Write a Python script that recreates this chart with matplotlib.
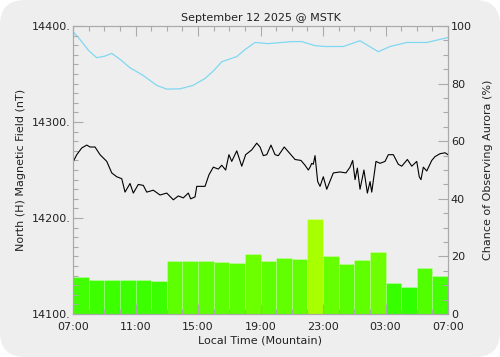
import numpy as np
import matplotlib
matplotlib.use("Agg")
import matplotlib.pyplot as plt
from matplotlib.patches import FancyBboxPatch
from matplotlib.ticker import MultipleLocator

# hourly aurora chance bars (%), 07:00 -> 07:00 next day
bar_hours = np.arange(24)
bar_pct = [12.7, 11.9, 11.7, 11.7, 11.7, 11.6, 18.4, 18.5, 18.5, 18.2, 17.7, 20.9,
           18.4, 19.3, 19.1, 33.0, 20.0, 17.5, 18.9, 21.5, 10.9, 9.5, 16.1, 13.2]

# chance of observing aurora line (%), hours after 07:00
cyan_t = [0.0, 0.5, 1.0, 1.52, 2.0, 2.48, 3.0, 3.65, 4.48, 5.36, 6.0, 6.85, 7.68, 8.45,
          9.0, 9.52, 10.48, 11.0, 11.65, 12.5, 14.0, 14.64, 15.49, 16.13, 17.3, 18.37,
          19.54, 20.29, 21.36, 22.64, 24.0]
cyan_pct = [98.1, 95.0, 91.5, 89.0, 89.5, 90.5, 88.5, 85.5, 82.9, 79.4, 78.1, 78.2, 79.4, 81.8,
            84.5, 87.6, 89.4, 91.8, 94.3, 93.9, 94.6, 94.6, 93.2, 92.9, 92.9, 94.9,
            91.1, 92.9, 94.3, 94.3, 96.0]

# north (H) magnetic field (nT)
mag_t = [0.02, 0.24, 0.56, 0.88, 1.09, 1.41, 1.73, 2.16, 2.48, 2.80, 3.12, 3.33, 3.65, 3.86,
         4.18, 4.50, 4.72, 5.14, 5.57, 6.00, 6.42, 6.74, 7.06, 7.38, 7.53, 7.81, 7.92,
         8.45, 8.70, 8.98, 9.30, 9.52, 9.77, 9.98, 10.16, 10.48, 10.80, 11.05, 11.44,
         11.76, 11.97, 12.18, 12.40, 12.67, 12.93, 13.14, 13.52, 13.89, 14.21, 14.59,
         14.85, 15.06, 15.17, 15.28, 15.38, 15.49, 15.66, 15.81, 16.02, 16.24, 16.66,
         17.09, 17.47, 17.73, 17.90, 18.05, 18.20, 18.37, 18.62, 18.84, 19.01, 19.12,
         19.39, 19.65, 19.97, 20.18, 20.50, 20.82, 21.04, 21.40, 21.68, 22.00, 22.16,
         22.27, 22.42, 22.64, 22.96, 23.17, 23.49, 23.81, 24.0]
mag_nt = [14259, 14266, 14273, 14276, 14274, 14274, 14266, 14259, 14247, 14243, 14241, 14227,
          14236, 14226, 14235, 14234, 14227, 14229, 14224, 14226, 14219, 14223, 14221,
          14226, 14220, 14222, 14233, 14233, 14245, 14253, 14251, 14255, 14250, 14266,
          14259, 14270, 14254, 14266, 14271, 14278, 14274, 14265, 14266, 14276, 14266,
          14265, 14274, 14267, 14261, 14260, 14255, 14250, 14253, 14257, 14256, 14265,
          14238, 14233, 14243, 14230, 14247, 14248, 14247, 14253, 14260, 14240, 14252,
          14230, 14250, 14226, 14238, 14227, 14259, 14257, 14259, 14266, 14266, 14256,
          14254, 14261, 14254, 14259, 14243, 14240, 14253, 14249, 14260, 14264, 14267,
          14268, 14266]

xtick_pos = [0, 4, 8, 12, 16, 20, 24]
xtick_labels = ["07:00", "11:00", "15:00", "19:00", "23:00", "03:00", "07:00"]

BG = "#eeeeee"
TXT = "#222222"
SPINE = "#aaaaaa"

fig = plt.figure(figsize=(5, 3.57), dpi=100)
fig.patch.set_facecolor("white")
fig.patches.append(FancyBboxPatch((0.0, 0.0), 1.0, 1.0, boxstyle="round,pad=0,rounding_size=0.05",
                                  transform=fig.transFigure, facecolor=BG, edgecolor="none",
                                  mutation_aspect=1.4, zorder=-10))

ax2 = fig.add_axes([0.146, 0.1204, 0.75, 0.8066])
ax = ax2.twinx()
ax.set_zorder(ax2.get_zorder() + 1)
ax.patch.set_visible(False)
ax2.set_facecolor(BG)

# bars, coloured green -> yellow with value
colors = [(min(v / 50.0, 1.0), 1.0, 0.0) for v in bar_pct]
ax2.bar(bar_hours, bar_pct, width=1.0, align="edge", color=colors,
        edgecolor=(1, 1, 1, 0.25), linewidth=0.6)
ax2.plot(cyan_t, cyan_pct, color="#80d8f2", lw=0.9)
ax2.set_ylim(0, 100)
ax2.set_xlim(0, 24)

ax.plot(mag_t, mag_nt, color="black", lw=0.8)
ax.set_ylim(14100, 14400)

# axis placement: nT on left, percent on right
ax.yaxis.set_label_position("left")
ax.yaxis.tick_left()
ax2.yaxis.set_label_position("right")
ax2.yaxis.tick_right()

ax.set_yticks([14100, 14200, 14300, 14400])
ax.set_yticklabels(["14100.", "14200.", "14300.", "14400."])
ax.yaxis.set_minor_locator(MultipleLocator(10))
ax2.set_yticks([0, 20, 40, 60, 80, 100])
ax2.yaxis.set_minor_locator(MultipleLocator(5))

ax2.set_xticks(xtick_pos)
ax2.set_xticklabels(xtick_labels)
ax2.xaxis.set_minor_locator(MultipleLocator(1))

ax.tick_params(axis="y", which="major", direction="in", length=7, width=0.8, color=SPINE,
               labelsize=8, labelcolor=TXT, pad=2)
ax.tick_params(axis="y", which="minor", direction="in", length=3.5, width=0.8, color=SPINE)
ax.tick_params(axis="x", which="both", bottom=False, top=False, labelbottom=False)
ax2.tick_params(axis="y", which="major", direction="in", length=7, width=0.8, color=SPINE,
                labelsize=8, labelcolor=TXT, pad=2)
ax2.tick_params(axis="y", which="minor", direction="in", length=3.5, width=0.8, color=SPINE)
ax2.tick_params(axis="x", which="major", direction="in", length=7, width=0.8, color=SPINE,
                top=True, bottom=True, labelsize=8, labelcolor=TXT, pad=6)
ax2.tick_params(axis="x", which="minor", direction="in", length=3.5, width=0.8, color=SPINE,
                top=True, bottom=True)

for a in (ax, ax2):
    for s in a.spines.values():
        s.set_color(SPINE)
        s.set_linewidth(0.8)

ax.set_ylabel("North (H) Magnetic Field (nT)", fontsize=8, color=TXT, labelpad=4)
ax2.set_ylabel("Chance of Observing Aurora (%)", fontsize=8, color=TXT, labelpad=8)
ax2.set_xlabel("Local Time (Mountain)", fontsize=8, color=TXT, labelpad=2)
ax2.set_title("September 12 2025 @ MSTK", fontsize=8, color=TXT, pad=4)

fig.savefig("out.png", dpi=100, facecolor=fig.get_facecolor())
